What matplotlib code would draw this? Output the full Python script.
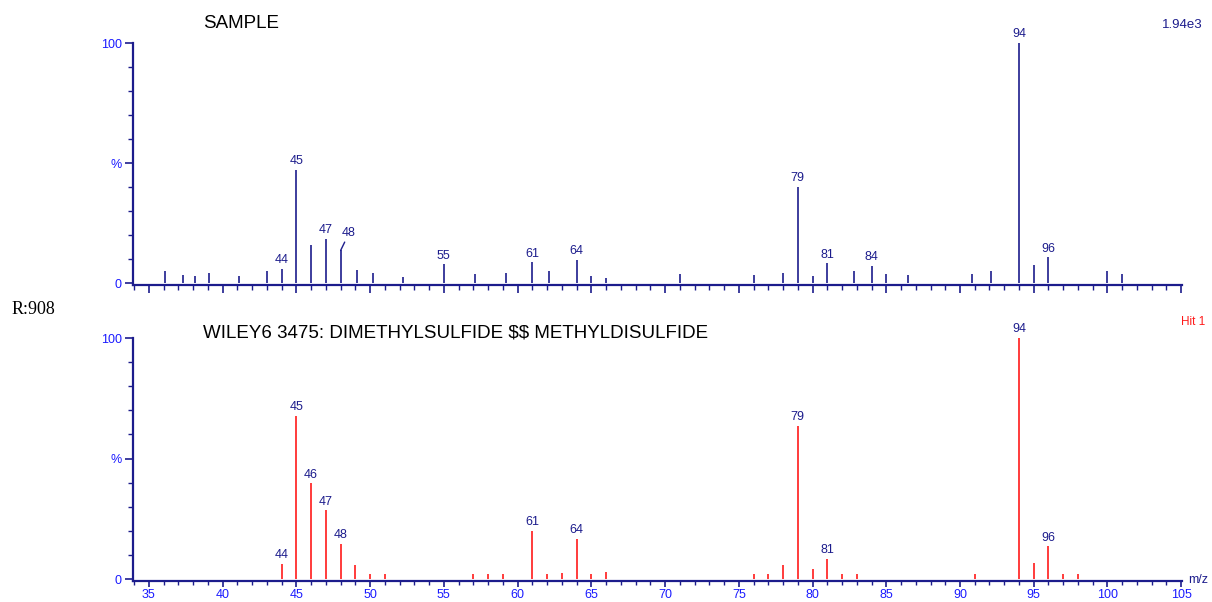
import matplotlib
matplotlib.use("Agg")
import matplotlib.pyplot as plt
from matplotlib.ticker import MultipleLocator, FixedLocator

plt.rcParams['font.family'] = ['Liberation Sans', 'DejaVu Sans']

# sample spectrum (m/z, relative intensity %)
sample_mz = [36.1, 37.3, 38.1, 39.1, 41.1, 43.0, 44, 45, 46, 47, 48, 49.1, 50.2, 52.2,
             55, 57.1, 59.2, 61, 62.1, 64, 65, 66, 71, 76, 78, 79, 80, 81, 82.8, 84,
             85, 86.5, 90.8, 92.1, 94, 95, 96, 100, 101]
sample_int = [5.0, 3.4, 2.9, 4.0, 2.9, 5.0, 6.0, 47, 15.8, 18.3, 13.6, 5.5, 4.2, 2.5,
              7.8, 3.9, 4.4, 8.6, 5.0, 9.7, 2.8, 2.2, 3.9, 3.3, 4.4, 40, 2.8, 8.2, 5.0, 7.0,
              3.9, 3.3, 3.9, 5.0, 100, 7.6, 10.7, 5.0, 3.9]
sample_labels = [44, 45, 47, 55, 61, 64, 79, 81, 84, 94, 96]

# library hit spectrum
lib_mz = [44, 45, 46, 47, 48, 49, 50, 51, 57, 58, 59, 61, 62, 63, 64, 65, 66,
          76, 77, 78, 79, 80, 81, 82, 83, 91, 94, 95, 96, 97, 98]
lib_int = [6.3, 67.8, 39.7, 28.5, 14.6, 5.8, 2.0, 2.0, 2.0, 2.0, 2.0, 20, 2.0, 2.5, 16.6, 2.0, 3.0,
           2.0, 2.0, 6.0, 63.5, 4.0, 8.3, 2.0, 2.0, 2.0, 100, 6.8, 13.6, 2.0, 2.0]
lib_labels = [44, 45, 46, 47, 48, 61, 64, 79, 81, 94, 96]

navy = '#1c1c8c'
blue = '#1a1aff'
red = '#ff1a1a'

fig = plt.figure(figsize=(12.12, 6.02), dpi=100)
L, R = 133 / 1212, 1181.5 / 1212
ax1 = fig.add_axes([L, 1 - 285 / 602, R - L, 242 / 602])
ax2 = fig.add_axes([L, 1 - 581 / 602, R - L, 243 / 602])


def style(ax):
    ax.set_xlim(33.92, 105.02)
    ax.set_ylim(-0.8, 100)
    for s in ['top', 'right']:
        ax.spines[s].set_visible(False)
    for s in ['left', 'bottom']:
        ax.spines[s].set_color(navy)
        ax.spines[s].set_linewidth(1.6)
    ax.xaxis.set_major_locator(MultipleLocator(5))
    ax.xaxis.set_minor_locator(MultipleLocator(1))
    ax.yaxis.set_major_locator(FixedLocator([0, 50, 100]))
    ax.yaxis.set_minor_locator(FixedLocator([10, 20, 30, 40, 60, 70, 80, 90]))
    ax.set_yticklabels(['0', '%', '100'])
    ax.tick_params(which='major', length=6, width=1.2, color=navy, labelcolor=blue, labelsize=9, pad=2)
    ax.tick_params(which='minor', length=3.5, width=1.0, color=navy)
    ax.set_facecolor('none')


def label_peaks(ax, mz, inten, labels):
    for m, v in zip(mz, inten):
        if m in labels:
            ax.annotate(str(m), (m, v), xytext=(0, 2), textcoords='offset points',
                        ha='center', va='bottom', fontsize=9, color=navy)


style(ax1)
ax1.vlines(sample_mz, 0, sample_int, color=navy, lw=1.2)
ax1.tick_params(axis='x', which='both', labelbottom=False)
label_peaks(ax1, sample_mz, sample_int, sample_labels)
# 48 label with leader line
ax1.annotate('48', (48, 13.6), xytext=(6, 8), textcoords='offset points',
             ha='center', va='bottom', fontsize=9, color=navy,
             arrowprops=dict(arrowstyle='-', color=navy, lw=1, shrinkA=0, shrinkB=0))

style(ax2)
ax2.vlines(lib_mz, 0, lib_int, color=red, lw=1.2)
label_peaks(ax2, lib_mz, lib_int, lib_labels)
ax2.tick_params(axis='x', which='major', length=4.5, labelsize=9, pad=1)
ax2.tick_params(axis='x', which='minor', length=3)

fig.text(203 / 1212, 1 - 24 / 602, 'SAMPLE', fontsize=13.5, va='center', color='black')
fig.text(203 / 1212, 1 - 333 / 602, r'WILEY6 3475: DIMETHYLSULFIDE \$\$ METHYLDISULFIDE',
         fontsize=13.5, va='center', color='black')
fig.text(12 / 1212, 1 - 310 / 602, 'R:908', fontsize=13, va='center',
         family=['Liberation Serif', 'DejaVu Serif'])
fig.text(1203 / 1212, 1 - 25 / 602, '1.94e3', fontsize=9.5, ha='right', va='center', color=navy)
fig.text(1205 / 1212, 1 - 322 / 602, 'Hit 1', fontsize=8.5, ha='right', va='center', color=red)
fig.text(1188 / 1212, 1 - 580 / 602, 'm/z', fontsize=9, ha='left', va='center', color=navy)

fig.savefig('out.png', dpi=100)
